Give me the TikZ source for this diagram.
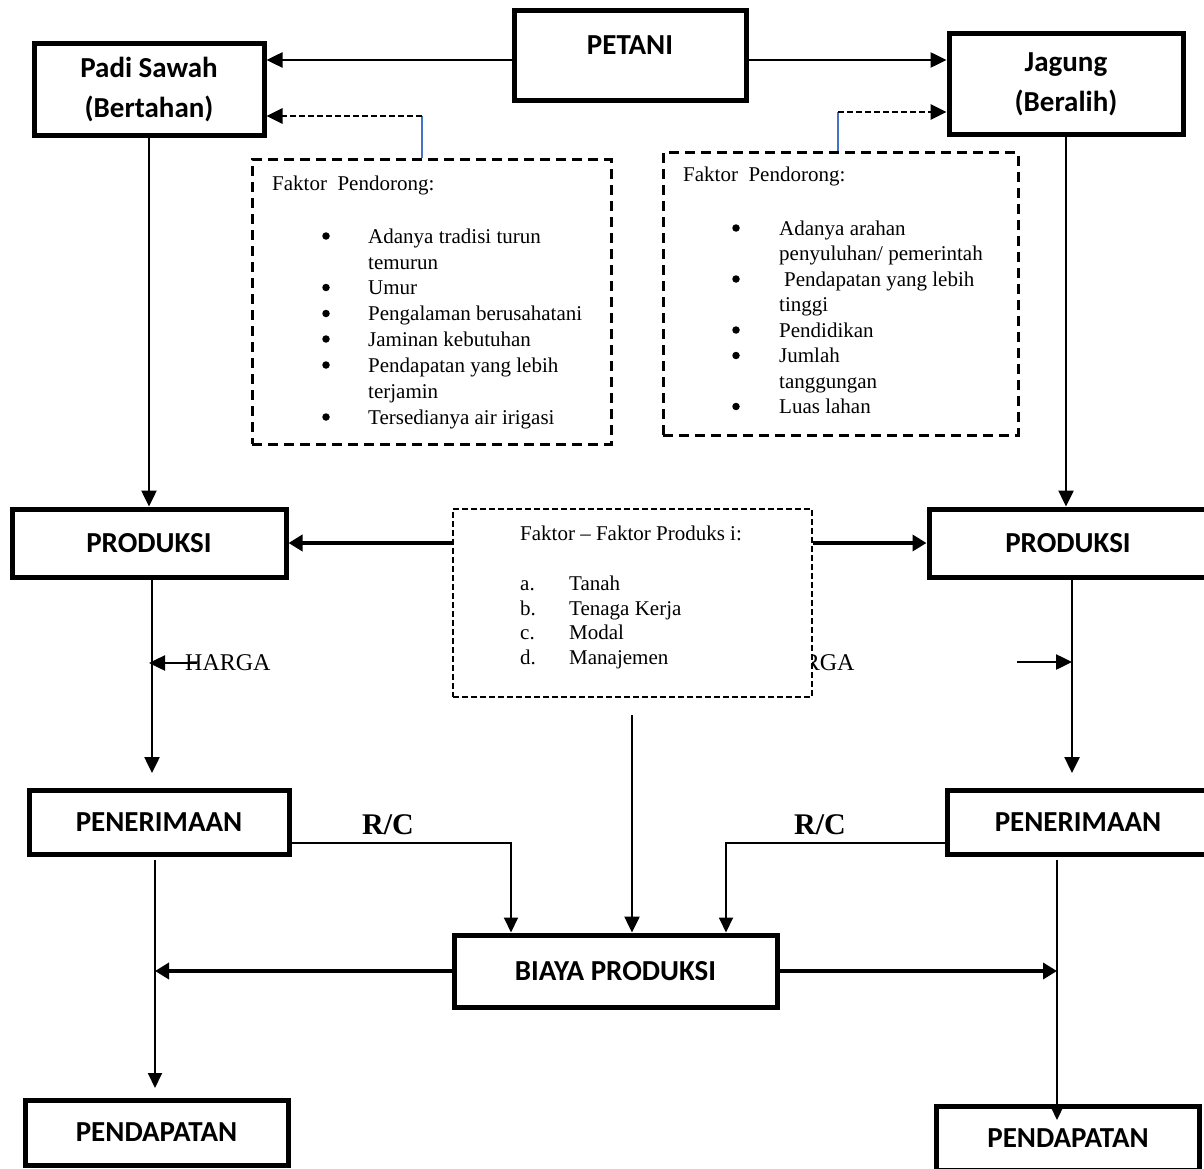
\documentclass[tikz,border=0pt]{standalone}
\usepackage{fontspec}
\setmainfont{Liberation Serif}
\newfontfamily\boxfont{Carlito}
\usetikzlibrary{arrows.meta}
\definecolor{lineblue}{RGB}{68,114,196}
\begin{document}
\begin{tikzpicture}[x=1pt,y=-1pt,
 mainbox/.style={draw, line width=5pt, rectangle, inner sep=0pt, align=center, font=\boxfont\bfseries\fontsize{29}{40}\selectfont},
 boxtxt/.style={inner sep=0pt, font=\boxfont\bfseries\fontsize{29}{40}\selectfont},
 dbox/.style={draw, line width=3pt, dash pattern=on 10pt off 6pt, rectangle, inner sep=0pt},
 mbox/.style={dbox, line width=2.8pt, dash pattern=on 6pt off 3pt, fill=white},
 lst/.style={inner sep=0pt, anchor=base west, font=\fontsize{21}{25}\selectfont},
 bul/.style={circle, fill, inner sep=0pt, minimum size=7.5pt},
 conn/.style={line width=2.5pt, -{Triangle[length=16pt,width=15pt]}},
 thinconn/.style={line width=1.9pt, -{Triangle[length=15pt,width=14pt]}},
 heavy/.style={line width=4.5pt, -{Triangle[length=14pt,width=16pt]}},
 dconn/.style={line width=2.8pt, dash pattern=on 6pt off 3pt, -{Triangle[length=16pt,width=15pt]}},
 blueln/.style={line width=1.6pt, draw=lineblue},
 rclab/.style={inner sep=0pt, anchor=base, font=\bfseries\fontsize{30}{36}\selectfont},
 hlab/.style={inner sep=0pt, anchor=base west, font=\fontsize{24}{28}\selectfont},
]
\useasboundingbox[fill=white] (0,0) rectangle (1204,1169);

% main boxes
\node[mainbox, minimum width=232pt, minimum height=90pt] (petani) at (630,56) {};
\node[boxtxt] (petanitxt) at (630,45) {PETANI};
\node[mainbox, minimum width=230pt, minimum height=92pt] (padi) at (149,89.5) {\raisebox{-4pt}{Padi Sawah}\\\raisebox{-4pt}{(Bertahan)}};
\node[mainbox, minimum width=234pt, minimum height=101pt] (jagung) at (1066,84) {Jagung\\(Beralih)};
\node[mainbox, minimum width=274pt, minimum height=68pt] (lprod) at (149,543) {PRODUKSI};
\node[mainbox, minimum width=278pt, minimum height=68pt] (rprod) at (1068,543) {PRODUKSI};
\node[mainbox, minimum width=260pt, minimum height=64pt] (lpen) at (159,822) {PENERIMAAN};
\node[mainbox, minimum width=262pt, minimum height=64pt] (rpen) at (1078,822) {PENERIMAAN};
\node[mainbox, minimum width=323pt, minimum height=72pt] (biaya) at (615.5,971) {BIAYA PRODUKSI};
\node[mainbox, minimum width=263pt, minimum height=65pt] (lpend) at (156.5,1132.5) {PENDAPATAN};
\node[mainbox, minimum width=263pt, minimum height=64pt] (rpend) at (1068,1138) {PENDAPATAN};

% dashed boxes (left and right)
\node[dbox, minimum width=359pt, minimum height=284pt] (lfak) at (431.5,302) {};
\node[dbox, minimum width=355pt, minimum height=282pt] (rfak) at (840.5,294) {};

% left list
\node[lst] (lhead) at (272,190) {Faktor\ \ Pendorong:};
\node[bul] (lb1) at (326,236) {};
\node[lst] (lt1) at (368,243) {Adanya tradisi turun};
\node[lst] (lt2) at (368,269) {temurun};
\node[bul] (lb3) at (326,287.5) {};
\node[lst] (lt3) at (368,294.5) {Umur};
\node[bul] (lb4) at (326,313.5) {};
\node[lst] (lt4) at (368,320.5) {Pengalaman berusahatani};
\node[bul] (lb5) at (326,339) {};
\node[lst] (lt5) at (368,346) {Jaminan kebutuhan};
\node[bul] (lb6) at (326,365) {};
\node[lst] (lt6) at (368,372) {Pendapatan yang lebih};
\node[lst] (lt7) at (368,398) {terjamin};
\node[bul] (lb8) at (326,417) {};
\node[lst] (lt8) at (368,424) {Tersedianya air irigasi};

% right list
\node[lst] (rhead) at (683,182) {Faktor\ \ Pendorong:};
\node[bul] (rb1) at (736,228) {};
\node[lst] (rt1) at (779,235) {Adanya arahan};
\node[lst] (rt2) at (779,260.5) {penyuluhan/ pemerintah};
\node[bul] (rb3) at (736,279) {};
\node[lst] (rt3) at (784,286) {Pendapatan yang lebih};
\node[lst] (rt4) at (779,311.5) {tinggi};
\node[bul] (rb5) at (736,330) {};
\node[lst] (rt5) at (779,337) {Pendidikan};
\node[bul] (rb6) at (736,355.5) {};
\node[lst] (rt6) at (779,362.5) {Jumlah};
\node[lst] (rt7) at (779,388) {tanggungan};
\node[bul] (rb8) at (736,406.5) {};
\node[lst] (rt8) at (779,413.5) {Luas lahan};

% HARGA labels (right one partly hidden by the middle box)
\node[hlab] (hright) at (769,670) {HARGA};
\node[hlab] (hleft) at (185,670) {HARGA};

% middle dashed box
\node[mbox, minimum width=359pt, minimum height=188pt] (mfak) at (632.5,603) {};
\node[lst] (mhead) at (520,540) {Faktor – Faktor Produks i:};
\node[lst] (ma) at (520,590) {a.};
\node[lst] (mta) at (569,590) {Tanah};
\node[lst] (mb) at (520,615) {b.};
\node[lst] (mtb) at (569,615) {Tenaga Kerja};
\node[lst] (mc) at (520,639) {c.};
\node[lst] (mtc) at (569,639) {Modal};
\node[lst] (md) at (520,664) {d.};
\node[lst] (mtd) at (569,664) {Manajemen};

% R/C labels
\node[rclab] (rcl) at (388,834) {R/C};
\node[rclab] (rcr) at (820,834) {R/C};

% helper coordinates
\coordinate (lbend) at (422,116);
\coordinate (rbend) at (838,112);
\coordinate (lpenin) at (152,773);
\coordinate (rpenin) at (1072,773);
\coordinate (lharga) at (197,663);
\coordinate (rharga) at (1017,662);
\coordinate (mstart) at (632,715);
\coordinate (lrc) at (511,843);
\coordinate (rrc) at (726,843);
\coordinate (lpendin) at (155,1088);
\coordinate (rpendin) at (1057,1120);

% connectors
\draw[conn] ([yshift=-4pt]petani.west) -- ([yshift=-4pt]petani.west -| padi.east);
\draw[conn] ([yshift=-4pt]petani.east) -- ([yshift=-4pt]petani.east -| jagung.west);
\draw[blueln] (lbend |- lfak.north) -- (lbend);
\draw[dconn] (lbend) -- (lbend -| padi.east);
\draw[blueln] (rbend |- rfak.north) -- (rbend);
\draw[dconn] (rbend) -- (rbend -| jagung.west);
\draw[conn] (padi.south) -- (padi.south |- lprod.north);
\draw[conn] (jagung.south) -- (jagung.south |- rprod.north);
\draw[heavy] (mfak.west |- lprod.east) -- (lprod.east);
\draw[heavy] (mfak.east |- rprod.west) -- (rprod.west);
\draw[conn] (lprod.south -| lpenin) -- (lpenin);
\draw[conn] (rprod.south -| rpenin) -- (rpenin);
\draw[conn] (lharga) -- (lharga -| lprod.south);
\draw[conn] (rharga) -- (rharga -| rpenin);
\draw[conn] (mstart) -- (mstart |- biaya.north);
\draw[thinconn] (lpen.east |- lrc) -- (lrc) -- (lrc |- biaya.north);
\draw[thinconn] (rpen.west |- rrc) -- (rrc) -- (rrc |- biaya.north);
\draw[heavy] (biaya.west) -- (biaya.west -| lpendin);
\draw[heavy] (biaya.east) -- (biaya.east -| rpendin);
\draw[thinconn] ([yshift=-3pt]lpen.south -| lpendin) -- (lpendin);
\draw[thinconn] ([yshift=-3pt]rpen.south -| rpendin) -- (rpendin);
\end{tikzpicture}
\end{document}
